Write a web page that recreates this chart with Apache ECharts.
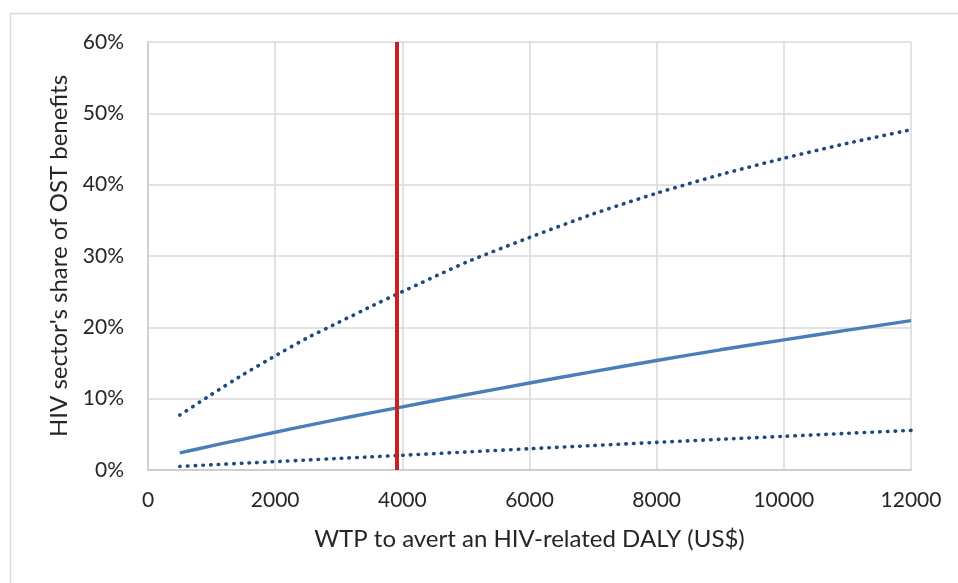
<!DOCTYPE html>
<html>
<head>
  <meta charset="utf-8">
  <title>HIV sector's share of OST benefits</title>
  <script src="https://cdn.jsdelivr.net/npm/echarts@6.0.0/dist/echarts.min.js"></script>
  <style>
    html, body { margin: 0; padding: 0; background: #fff; }
    #main { width: 958px; height: 583px; }
  </style>
</head>
<body>
  <div id="main"></div>
  <script>
    const wtp = [500, 1000, 1500, 2000, 2500, 3000, 3500, 4000, 5000, 6000, 7000, 8000, 9000, 10000, 11000, 12000];
    // share of OST benefits, in %
    const upperShare = [7.7, 10.6, 13.4, 16.0, 18.5, 20.7, 22.9, 25.0, 29.1, 32.6, 35.9, 38.8, 41.4, 43.7, 45.8, 47.7];
    const centralShare = [2.4, 3.38, 4.34, 5.29, 6.22, 7.13, 8.0, 8.86, 10.55, 12.2, 13.8, 15.35, 16.85, 18.25, 19.6, 20.95];
    const lowerShare = [0.5, 0.73, 0.95, 1.17, 1.4, 1.62, 1.84, 2.06, 2.52, 2.98, 3.43, 3.87, 4.3, 4.72, 5.14, 5.55];
    const thresholdWtp = 3920;  // red vertical line

    const pairs = ys => wtp.map((x, i) => [x, ys[i]]);

    const font = 'Lato, "Open Sans", sans-serif';
    const textColor = '#262626';
    const gridColor = '#d9d9d9';
    const dotted = {
      color: '#1c4a7c',
      width: 3.6,
      type: [0.5, 7.2],
      cap: 'round'
    };

    const chart = echarts.init(document.getElementById('main'));

    const option = {
      animation: false,
      backgroundColor: '#fff',
      graphic: [{
        type: 'rect',
        shape: { x: 10.5, y: 13.5, width: 1000, height: 1000 },
        style: { fill: 'none', stroke: '#d9d9d9', lineWidth: 1.5 },
        silent: true
      }],
      grid: { left: 148, top: 42, width: 763, height: 428 },
      xAxis: {
        type: 'value',
        min: 0,
        max: 12000,
        interval: 2000,
        name: 'WTP to avert an HIV-related DALY (US$)',
        nameLocation: 'middle',
        nameGap: 57,
        nameTextStyle: { fontFamily: font, fontSize: 24, color: textColor },
        axisLine: { show: true, lineStyle: { color: '#c8c8c8', width: 1.5 } },
        axisTick: { show: false },
        axisLabel: { fontFamily: font, fontSize: 21, color: textColor, margin: 20, formatter: v => String(v) },
        splitLine: { show: true, lineStyle: { color: gridColor, width: 1.5 } }
      },
      yAxis: {
        type: 'value',
        min: 0,
        max: 60,
        interval: 10,
        name: "HIV sector's share of OST benefits",
        nameLocation: 'middle',
        nameGap: 77,
        nameTextStyle: { fontFamily: font, fontSize: 24, color: textColor },
        axisLine: { show: true, lineStyle: { color: '#c8c8c8', width: 1.5 } },
        axisTick: { show: false },
        axisLabel: { fontFamily: font, fontSize: 21, color: textColor, margin: 24, formatter: '{value}%' },
        splitLine: { show: true, lineStyle: { color: gridColor, width: 1.5 } }
      },
      series: [
        {
          type: 'line',
          data: pairs(upperShare),
          smooth: 0.2,
          showSymbol: false,
          lineStyle: dotted
        },
        {
          type: 'line',
          data: pairs(centralShare),
          smooth: 0.2,
          showSymbol: false,
          lineStyle: { color: '#4a7ebb', width: 3.4 }
        },
        {
          type: 'line',
          data: pairs(lowerShare),
          smooth: 0.2,
          showSymbol: false,
          lineStyle: dotted,
          markLine: {
            silent: true,
            symbol: 'none',
            label: { show: false },
            lineStyle: { color: '#c9211e', width: 4, type: 'solid' },
            data: [{ xAxis: thresholdWtp }]
          }
        }
      ]
    };

    chart.setOption(option);
  </script>
</body>
</html>
